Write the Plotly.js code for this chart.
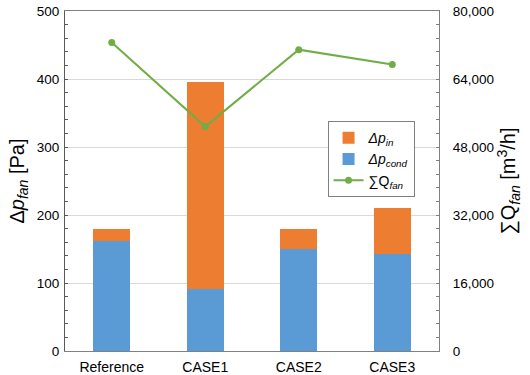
<!DOCTYPE html>
<html><head><meta charset="utf-8">
<script src="https://cdn.plot.ly/plotly-3.0.1.min.js"></script>
<style>html,body{margin:0;padding:0;background:#fff}#c{width:530px;height:375px}</style>
</head><body><div id="c"></div>
<script>
const categories = ["Reference", "CASE1", "CASE2", "CASE3"];
const dpCond = [162, 91, 150, 142];
const dpIn = [18, 305, 29, 69];
const qFan = [72600, 52800, 70900, 67400];

const fontFam = "'Liberation Sans', Arial, sans-serif";
const data = [
  {type:'bar', x:categories, y:dpCond, name:'<i>Δp</i><sub><i>cond</i></sub>', marker:{color:'#5B9BD5'}, width:0.4, legendrank:2},
  {type:'bar', x:categories, y:dpIn, name:'<i>Δp</i><sub><i>in</i></sub>', marker:{color:'#ED7D31'}, width:0.4, legendrank:1},
  {type:'scatter', mode:'lines+markers', x:categories, y:qFan, yaxis:'y2', name:'∑Q<sub><i>fan</i></sub>',
   line:{color:'#70AD47', width:2}, marker:{color:'#70AD47', size:7}, legendrank:3}
];
const layout = {
  width:530, height:375,
  margin:{l:65, r:91, t:11, b:24},
  barmode:'stack',
  paper_bgcolor:'#fff', plot_bgcolor:'#fff',
  font:{family:fontFam, size:13, color:'#000'},
  showlegend:true,
  legend:{x:0.702, y:0.676, xanchor:'left', yanchor:'top', bordercolor:'#808080', borderwidth:1,
          bgcolor:'#fff', traceorder:'normal', font:{size:14}, itemwidth:30, tracegroupgap:0},
  xaxis:{showline:true, linecolor:'#808080', linewidth:1, mirror:true, ticks:'', showgrid:false,
         tickfont:{size:14}, ticklabelstandoff:3, fixedrange:true},
  yaxis:{range:[0,500], dtick:100, showline:true, linecolor:'#595959', linewidth:1,
         ticks:'inside', ticklen:3, tickcolor:'#595959',
         minor:{dtick:20, ticks:'inside', ticklen:3, tickcolor:'#595959', showgrid:false},
         gridcolor:'#d9d9d9', zeroline:false, tickfont:{size:13.5}, ticklabelstandoff:2,
         title:{text:'Δ<i>p</i><sub><i>fan</i></sub> [Pa]', font:{size:20}, standoff:6}},
  yaxis2:{range:[0,80000], dtick:16000, tickformat:',', overlaying:'y', side:'right',
          showline:true, linecolor:'#808080', linewidth:1, ticks:'inside', ticklen:3, tickcolor:'#808080',
          minor:{dtick:3200, ticks:'inside', ticklen:3, tickcolor:'#808080', showgrid:false},
          showgrid:false, zeroline:false, tickfont:{size:13.5}, ticklabelstandoff:10,
          title:{text:'∑Q<sub><i>fan</i></sub> [m<sup>3</sup>/h]', font:{size:20}, standoff:6}}
};
Plotly.newPlot('c', data, layout, {displayModeBar:false, staticPlot:true});
</script></body></html>
